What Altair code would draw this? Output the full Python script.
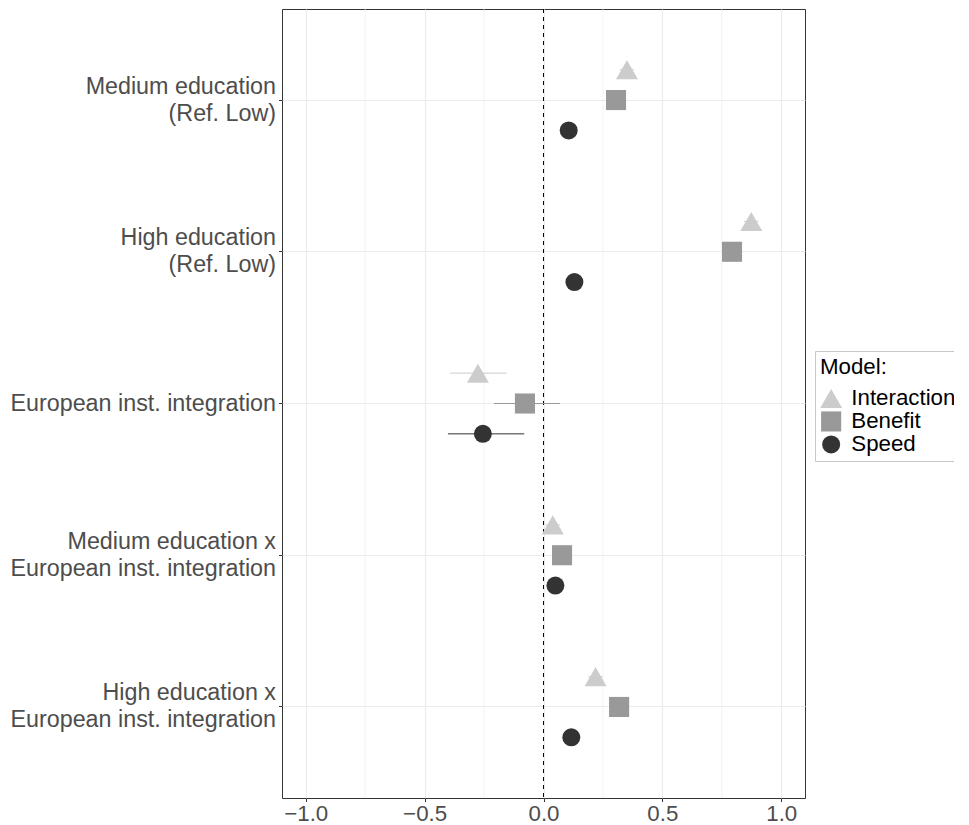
import altair as alt
import pandas as pd

terms = [
    "Medium education|(Ref. Low)",
    "High education|(Ref. Low)",
    "European inst. integration",
    "Medium education x|European inst. integration",
    "High education x|European inst. integration",
]
models = ["Interaction", "Benefit", "Speed"]

est_interaction = [0.351, 0.874, -0.276, 0.039, 0.219]
lo_interaction = [0.321, 0.844, -0.393, 0.009, 0.189]
hi_interaction = [0.381, 0.904, -0.156, 0.069, 0.249]

est_benefit = [0.305, 0.793, -0.078, 0.078, 0.318]
lo_benefit = [0.275, 0.763, -0.208, 0.048, 0.288]
hi_benefit = [0.335, 0.823, 0.069, 0.108, 0.348]

est_speed = [0.106, 0.130, -0.255, 0.050, 0.117]
lo_speed = [0.076, 0.100, -0.402, 0.020, 0.087]
hi_speed = [0.136, 0.160, -0.081, 0.080, 0.147]

major_ticks = [-1.0, -0.5, 0.0, 0.5, 1.0]
minor_grid = [-0.75, -0.25, 0.25, 0.75]

colors = ["#CCCCCC", "#999999", "#333333"]
shapes = ["triangle-up", "square", "circle"]
sizes = [484, 324, 324]

rows = []
for m, est, lo, hi in [
    ("Interaction", est_interaction, lo_interaction, hi_interaction),
    ("Benefit", est_benefit, lo_benefit, hi_benefit),
    ("Speed", est_speed, lo_speed, hi_speed),
]:
    for t, e, l, h in zip(terms, est, lo, hi):
        rows.append({"term": t, "model": m, "est": e, "lo": l, "hi": h})
df = pd.DataFrame(rows)

font = "Liberation Sans"

xscale = alt.Scale(domain=[-1.1, 1.1], nice=False, zero=False)
yscale = alt.Scale(domain=terms, paddingInner=0, paddingOuter=0.1)
yoff_scale = alt.Scale(domain=models, paddingInner=0, paddingOuter=1)

xaxis = alt.Axis(
    values=major_ticks, format=".1f", title=None, grid=True,
    gridColor="#EBEBEB", gridWidth=1.1, domain=False,
    tickColor="#333333", tickSize=3.5, tickWidth=1,
    labelFontSize=22.3, labelColor="#4D4D4D", labelFont=font, labelPadding=1,
)
yaxis = alt.Axis(
    title=None, grid=True, gridColor="#EBEBEB", gridWidth=1.1, domain=False,
    tickColor="#333333", tickSize=3.5, tickWidth=1,
    labelFontSize=23.3, labelColor="#4D4D4D", labelFont=font, labelPadding=3,
    labelExpr="split(datum.label, '|')", labelLineHeight=27, labelLimit=400,
    labelOffset={"condition": {"test": "indexof(datum.label, '|') >= 0", "value": -13.5},
                 "value": 0},
)

minor = alt.Chart(pd.DataFrame({"v": minor_grid})).mark_rule(
    color="#EBEBEB", strokeWidth=0.6
).encode(x=alt.X("v:Q", scale=xscale, axis=xaxis))

zero = alt.Chart(pd.DataFrame({"v": [0.0]})).mark_rule(
    color="#000000", strokeWidth=1, strokeDash=[4, 4]
).encode(x=alt.X("v:Q", scale=xscale))

color_enc = alt.Color("model:N", scale=alt.Scale(domain=models, range=colors),
                      title="Model:")
shape_enc = alt.Shape("model:N", scale=alt.Scale(domain=models, range=shapes),
                      title="Model:")
size_enc = alt.Size("model:N", scale=alt.Scale(domain=models, range=sizes),
                    title="Model:")

bars = alt.Chart(df).mark_rule(strokeWidth=1).encode(
    x=alt.X("lo:Q", scale=xscale),
    x2="hi:Q",
    y=alt.Y("term:N", scale=yscale, axis=yaxis, sort=terms),
    yOffset=alt.YOffset("model:N", scale=yoff_scale, sort=models),
    color=color_enc,
)

pts = alt.Chart(df).mark_point(filled=True, opacity=1).encode(
    x=alt.X("est:Q", scale=xscale),
    y=alt.Y("term:N", scale=yscale, sort=terms),
    yOffset=alt.YOffset("model:N", scale=yoff_scale, sort=models),
    color=color_enc,
    shape=shape_enc,
    size=size_enc,
)

chart = alt.layer(minor, zero, bars, pts).properties(
    width=523, height=789,
    padding={"left": 1, "top": 0, "right": -8, "bottom": 0},
).configure_view(
    stroke="#333333", strokeWidth=1
).configure_legend(
    orient="none", legendX=533, legendY=342,
    strokeColor="#C8C8C8", padding=5, fillColor="white",
    titleFontSize=22.3, titleFont=font, titleColor="#000000", titleFontWeight="normal",
    labelFontSize=22.3, labelFont=font, labelColor="#000000",
    rowPadding=-8, titlePadding=9, symbolOpacity=1, labelOffset=9,
    symbolStrokeWidth=0,
)

chart.save("out.html", embed_options={"renderer": "svg", "actions": False})
